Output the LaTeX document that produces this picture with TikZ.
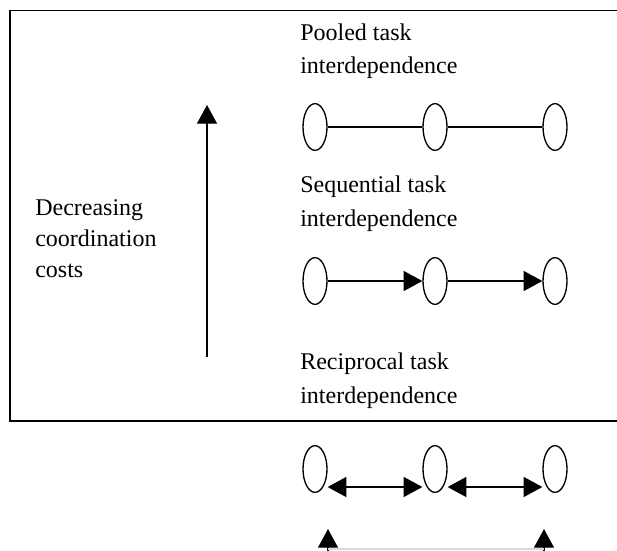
\documentclass[tikz,border=0pt]{standalone}
\usepackage{fontspec}
\setmainfont{Liberation Serif}
\usetikzlibrary{shapes.geometric,arrows.meta}

\begin{document}
\begin{tikzpicture}[x=0.75pt,y=0.75pt,yscale=-1,xscale=1,
  unit/.style={draw,line width=1pt,ellipse,minimum width=18pt,minimum height=35pt,inner sep=0pt},
  lbl/.style={anchor=base west,inner sep=0pt,font=\fontsize{18}{22}\selectfont},
  tri/.style={-{Triangle[length=14pt,width=15pt]}},
  tritwo/.style={{Triangle[length=14pt,width=15pt]}-{Triangle[length=14pt,width=15pt]}}]
\useasboundingbox (0,0) rectangle (617,550);

%Shape: Frame (right side runs off the page)
\draw [line width=1.2pt]  (640,10.5) -- (10,10.5) -- (10,421) -- (640,421) ;

% Text Node
\node (dec1) [lbl] at (35,215) {Decreasing};
% Text Node
\node (dec2) [lbl] at (35,246) {coordination};
% Text Node
\node (dec3) [lbl] at (35,277) {costs};

%Straight Lines: vertical arrow
\coordinate (vlow) at (207,357);
\coordinate (vtop) at (207,105);
\draw [tri,line width=1pt]  (vlow) -- (vtop) ;

% Text Node
\node (pool1) [lbl] at (300,40) {Pooled task};
% Text Node
\node (pool2) [lbl] at (300,73) {interdependence};
% Text Node
\node (seq1) [lbl] at (300,192) {Sequential task};
% Text Node
\node (seq2) [lbl] at (300,226) {interdependence};
% Text Node
\node (rec1) [lbl] at (300,369) {Reciprocal task};
% Text Node
\node (rec2) [lbl] at (300,403) {interdependence};

%Shape: Ellipse rows
\node (p1) [unit] at (315,127) {};
\node (p2) [unit] at (435,127) {};
\node (p3) [unit] at (555,127) {};
\node (s1) [unit] at (315,281) {};
\node (s2) [unit] at (435,281) {};
\node (s3) [unit] at (555,281) {};
\node (r1) [unit] at (315,469) {};
\node (r2) [unit] at (435,469) {};
\node (r3) [unit] at (555,469) {};

%Straight Lines
\draw [line width=0.9pt]  (p1) -- (p2) ;
\draw [line width=0.9pt]  (p2) -- (p3) ;
%Straight Lines
\draw [tri,line width=0.9pt]  (s1) -- (s2) ;
\draw [tri,line width=0.9pt]  (s2) -- (s3) ;
%Straight Lines
\draw [tritwo,line width=0.9pt]  ([yshift=13.5pt]r1.east) -- ([yshift=13.5pt]r2.west) ;
\draw [tritwo,line width=0.9pt]  ([yshift=13.5pt]r2.east) -- ([yshift=13.5pt]r3.west) ;

%Straight Lines: arrows from below the page
\coordinate (bl0) at (328,570);
\coordinate (bl1) at (328,529);
\coordinate (br0) at (544,570);
\coordinate (br1) at (544,529);
\draw [tri,line width=0.9pt]  (bl0) -- (bl1) ;
\draw [tri,line width=0.9pt]  (br0) -- (br1) ;
\draw [black!15,line width=0.8pt]  (328,549) -- (544,549) ;
\end{tikzpicture}
\end{document}
